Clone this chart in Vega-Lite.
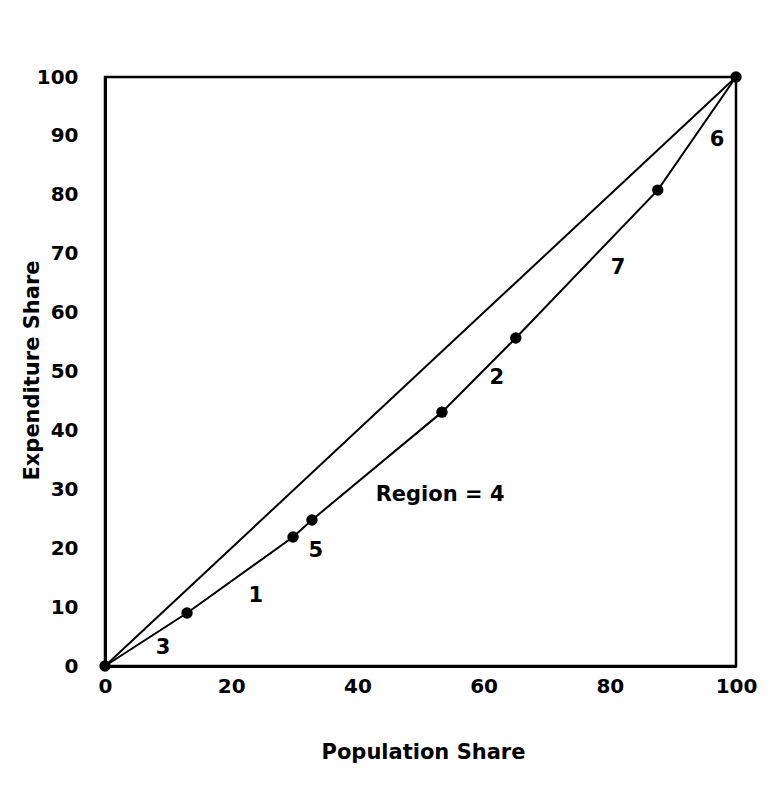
{
  "$schema": "https://vega.github.io/schema/vega-lite/v6.json",
  "autosize": {"type": "none"},
  "width": 631,
  "height": 589,
  "padding": {"left": 105, "top": 77, "right": 38, "bottom": 120},
  "background": "white",
  "config": {
    "view": {"stroke": "black", "strokeWidth": 2.5},
    "font": "DejaVu Sans",
    "axis": {
      "grid": false,
      "domainColor": "black",
      "domainWidth": 3,
      "ticks": false,
      "labelFlush": false,
      "labelFont": "DejaVu Sans",
      "labelFontSize": 20,
      "labelFontWeight": "bold",
      "labelColor": "black",
      "titleFont": "DejaVu Sans",
      "titleFontSize": 21,
      "titleFontWeight": "bold",
      "titleColor": "black"
    }
  },
  "datasets": {
    "lines": [
      {"series": "equality", "pop": 0, "exp": 0},
      {"series": "equality", "pop": 100, "exp": 100},
      {"series": "curve", "pop": 0, "exp": 0},
      {"series": "curve", "pop": 13.0, "exp": 9.0},
      {"series": "curve", "pop": 29.8, "exp": 21.9},
      {"series": "curve", "pop": 32.8, "exp": 24.8},
      {"series": "curve", "pop": 53.4, "exp": 43.1},
      {"series": "curve", "pop": 65.1, "exp": 55.7},
      {"series": "curve", "pop": 87.6, "exp": 80.8},
      {"series": "curve", "pop": 100, "exp": 100}
    ],
    "labels": [
      {"label": "3", "pop": 9.2, "exp": 3.1},
      {"label": "1", "pop": 23.9, "exp": 11.9},
      {"label": "5", "pop": 33.4, "exp": 19.5},
      {"label": "Region = 4", "pop": 53.1, "exp": 29.0},
      {"label": "2", "pop": 62.1, "exp": 48.9},
      {"label": "7", "pop": 81.3, "exp": 67.6},
      {"label": "6", "pop": 97.0, "exp": 89.3}
    ]
  },
  "layer": [
    {
      "data": {"name": "lines"},
      "mark": {"type": "line", "color": "black", "strokeWidth": 2},
      "encoding": {
        "x": {
          "field": "pop", "type": "quantitative",
          "scale": {"domain": [0, 100], "nice": false},
          "axis": {"values": [0, 20, 40, 60, 80, 100], "title": "Population Share", "labelPadding": 10, "titleX": 318, "titleY": 86, "titleBaseline": "middle"}
        },
        "y": {
          "field": "exp", "type": "quantitative",
          "scale": {"domain": [0, 100], "nice": false},
          "axis": {"values": [0, 10, 20, 30, 40, 50, 60, 70, 80, 90, 100], "title": "Expenditure Share", "labelPadding": 27, "titleX": -73, "titleY": 293, "titleAngle": -90, "titleBaseline": "middle"}
        },
        "detail": {"field": "series"}
      }
    },
    {
      "data": {"name": "lines"},
      "transform": [{"filter": "datum.series == 'curve'"}],
      "mark": {"type": "point", "filled": true, "color": "black", "size": 130, "opacity": 1},
      "encoding": {
        "x": {"field": "pop", "type": "quantitative"},
        "y": {"field": "exp", "type": "quantitative"}
      }
    },
    {
      "data": {"name": "labels"},
      "mark": {"type": "text", "color": "black", "fontSize": 21, "font": "DejaVu Sans", "fontWeight": "bold", "align": "center", "baseline": "middle"},
      "encoding": {
        "x": {"field": "pop", "type": "quantitative"},
        "y": {"field": "exp", "type": "quantitative"},
        "text": {"field": "label"}
      }
    }
  ]
}
